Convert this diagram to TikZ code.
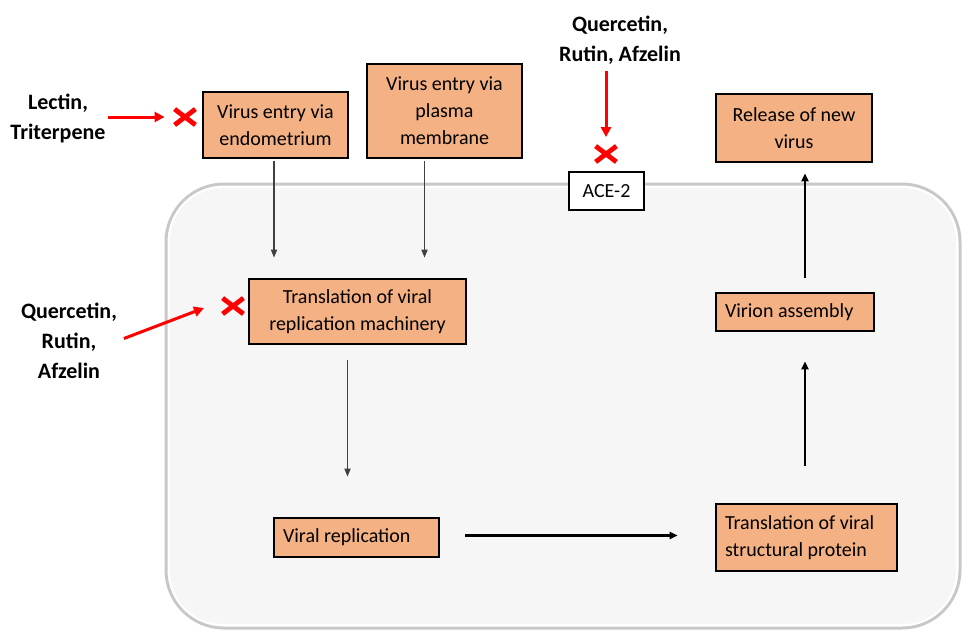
\documentclass[tikz,border=0pt]{standalone}
\usepackage{fontspec}
\setmainfont{Carlito}
\usetikzlibrary{arrows.meta,shapes.misc}
\definecolor{boxfill}{HTML}{F4B183}
\definecolor{cellfill}{HTML}{F6F6F6}
\definecolor{cellrim}{HTML}{C8C8C8}
\definecolor{linkgray}{HTML}{404040}
\begin{document}
\begin{tikzpicture}[x=0.5pt,y=0.5pt]
\tikzstyle{every node}+=[inner sep=0pt]
\tikzstyle{stage}=[draw=black,line width=1.3pt,fill=boxfill,align=center,font=\fontsize{10}{13.5}\selectfont]
\tikzstyle{stageleft}=[stage,align=flush left,inner xsep=4.5pt]
\tikzstyle{drug}=[align=center,font=\fontsize{11}{15}\selectfont\bfseries]
\tikzstyle{block}=[cross out,draw=red,line width=2.4pt,minimum width=8pt,minimum height=5.5pt]
\tikzstyle{redarrow}=[red,line width=1.5pt,-{Triangle[length=5pt,width=5pt]}]
\tikzstyle{grayarrow}=[linkgray,line width=0.8pt,-{Triangle[length=4pt,width=3pt]}]
\tikzstyle{blackarrow}=[black,line width=1.1pt,-{Triangle[length=4pt,width=3.5pt]}]
\useasboundingbox (0,0) rectangle (962,-633);
\draw [cellrim,line width=1.5pt,fill=white,rounded corners=29pt] (166,-184) rectangle (960,-628);
\draw [white,line width=1pt,fill=cellfill,rounded corners=27pt] (169,-187) rectangle (957,-625);
\node [stage,minimum width=72.5pt,minimum height=33pt] (endo) at (275.5,-125) {Virus entry via\\endometrium};
\node [stage,minimum width=77.5pt,minimum height=47pt] (plasma) at (444.5,-111) {Virus entry via\\plasma\\membrane};
\node [stage,minimum width=108.5pt,minimum height=32.5pt] (rep) at (357.5,-311.5) {Translation of viral\\replication machinery};
\node [stage,fill=white,minimum width=37.5pt,minimum height=19pt] (ace) at (606.5,-191) {ACE-2};
\node [stage,minimum width=78pt,minimum height=34pt] (release) at (794,-128) {Release of new\\virus};
\node [stageleft,text width=70pt,minimum height=19pt] (virion) at (795,-312) {Virion assembly};
\node [stageleft,text width=73.5pt,minimum height=19.5pt] (viral) at (356.5,-537.5) {Viral replication};
\node [stageleft,text width=81.5pt,minimum height=33.5pt] (struct) at (806.5,-537.5) {Translation of viral\\structural protein};
\node [drug] (lectin) at (58,-118) {Lectin,\\Triterpene};
\node [drug] (qleft) at (69,-341) {Quercetin,\\Rutin,\\Afzelin};
\node [drug] (qtop) at (620,-40) {Quercetin,\\Rutin, Afzelin};
\node [block] (xl) at (185,-117) {};
\node [block] (xq) at (233,-306) {};
\node [block] (xt) at (606,-154) {};
\coordinate (qtip) at (204,-308);
\draw [redarrow,shorten <=1pt,shorten >=5pt] (lectin.east |- xl.west) -- (xl.west);
\draw [redarrow,shorten <=3.5pt] (qleft.east) -- (qtip);
\draw [redarrow,shorten <=3pt,shorten >=4.5pt] (qtop.south -| xt.north) -- (xt.north);
\draw [grayarrow,shorten <=1pt,shorten >=10pt] ([xshift=-0.75pt]endo.south) -- ([xshift=-0.75pt]endo.south |- rep.north);
\draw [grayarrow,shorten <=1pt,shorten >=10pt] ([xshift=-10pt]plasma.south) -- ([xshift=-10pt]plasma.south |- rep.north);
\draw [grayarrow,shorten <=7.5pt,shorten >=20pt] ([xshift=-5pt]rep.south) -- ([xshift=-5pt]rep.south |- viral.north);
\draw [blackarrow,shorten <=12.5pt,shorten >=18.5pt] ([yshift=1pt]viral.east) -- ([yshift=1pt]viral.east -| struct.west);
\draw [blackarrow,shorten <=18.5pt,shorten >=14.5pt] ([xshift=-0.75pt]struct.north) -- ([xshift=-0.75pt]struct.north |- virion.south);
\draw [blackarrow,shorten <=7pt,shorten >=5pt] ([xshift=5pt]virion.north) -- ([xshift=5pt]virion.north |- release.south);
\end{tikzpicture}
\end{document}
